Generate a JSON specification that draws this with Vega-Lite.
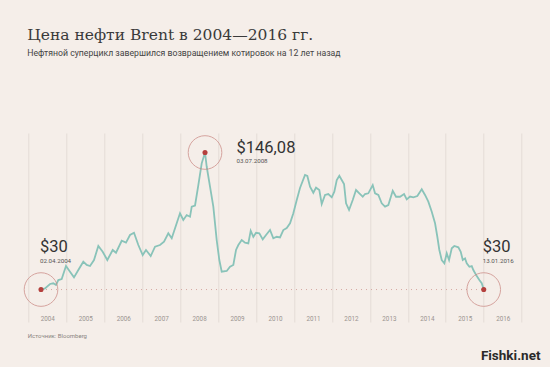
{
  "$schema": "https://vega.github.io/schema/vega-lite/v6.json",
  "autosize": {"type": "none"},
  "width": 493.4,
  "height": 189,
  "padding": {"left": 28.3, "top": 133, "right": 28.3, "bottom": 45},
  "background": "#f5eee9",
  "title": {
    "text": "Цена нефти Brent в 2004—2016 гг.",
    "subtitle": "Нефтяной суперцикл завершился возвращением котировок на 12 лет назад",
    "anchor": "start",
    "frame": "group",
    "offset": 75,
    "dx": -1,
    "font": "DejaVu Serif",
    "fontSize": 15.5,
    "fontWeight": "normal",
    "color": "#3a3a3a",
    "subtitleFont": "Roboto",
    "subtitleFontSize": 8.7,
    "subtitleColor": "#444444",
    "subtitlePadding": 6
  },
  "config": {"view": {"stroke": null}, "axis": {"labelOverlap": false}},
  "datasets": {
    "brent": [
      {"t": 2004.335, "price": 30.0},
      {"t": 2004.440, "price": 31.0},
      {"t": 2004.572, "price": 34.7},
      {"t": 2004.659, "price": 35.3},
      {"t": 2004.730, "price": 33.8},
      {"t": 2004.791, "price": 38.0},
      {"t": 2004.880, "price": 38.9},
      {"t": 2004.993, "price": 49.9},
      {"t": 2005.099, "price": 45.1},
      {"t": 2005.204, "price": 40.3},
      {"t": 2005.318, "price": 46.5},
      {"t": 2005.449, "price": 53.6},
      {"t": 2005.539, "price": 50.8},
      {"t": 2005.626, "price": 49.9},
      {"t": 2005.731, "price": 55.0},
      {"t": 2005.845, "price": 66.9},
      {"t": 2005.960, "price": 62.0},
      {"t": 2006.082, "price": 55.0},
      {"t": 2006.224, "price": 63.5},
      {"t": 2006.311, "price": 61.2},
      {"t": 2006.461, "price": 71.3},
      {"t": 2006.574, "price": 69.7},
      {"t": 2006.680, "price": 76.2},
      {"t": 2006.785, "price": 78.1},
      {"t": 2006.899, "price": 67.7},
      {"t": 2007.014, "price": 59.2},
      {"t": 2007.101, "price": 63.5},
      {"t": 2007.225, "price": 58.4},
      {"t": 2007.339, "price": 66.3},
      {"t": 2007.470, "price": 67.7},
      {"t": 2007.576, "price": 70.5},
      {"t": 2007.689, "price": 77.6},
      {"t": 2007.779, "price": 73.4},
      {"t": 2007.910, "price": 86.1},
      {"t": 2007.997, "price": 94.6},
      {"t": 2008.084, "price": 88.9},
      {"t": 2008.174, "price": 93.1},
      {"t": 2008.261, "price": 91.7},
      {"t": 2008.306, "price": 100.2},
      {"t": 2008.393, "price": 101.2},
      {"t": 2008.480, "price": 118.5},
      {"t": 2008.569, "price": 136.9},
      {"t": 2008.656, "price": 146.08},
      {"t": 2008.701, "price": 134.0},
      {"t": 2008.788, "price": 117.1},
      {"t": 2008.875, "price": 100.2},
      {"t": 2008.964, "price": 71.9},
      {"t": 2009.033, "price": 55.0},
      {"t": 2009.096, "price": 45.1},
      {"t": 2009.228, "price": 45.7},
      {"t": 2009.315, "price": 49.3},
      {"t": 2009.402, "price": 50.8},
      {"t": 2009.473, "price": 63.5},
      {"t": 2009.534, "price": 67.7},
      {"t": 2009.623, "price": 71.9},
      {"t": 2009.710, "price": 69.7},
      {"t": 2009.797, "price": 69.1},
      {"t": 2009.860, "price": 79.8},
      {"t": 2009.929, "price": 74.7},
      {"t": 2010.000, "price": 78.1},
      {"t": 2010.087, "price": 77.6},
      {"t": 2010.177, "price": 72.5},
      {"t": 2010.264, "price": 76.2},
      {"t": 2010.369, "price": 80.4},
      {"t": 2010.456, "price": 73.4},
      {"t": 2010.545, "price": 74.7},
      {"t": 2010.632, "price": 74.1},
      {"t": 2010.719, "price": 80.4},
      {"t": 2010.809, "price": 82.1},
      {"t": 2010.896, "price": 86.1},
      {"t": 2010.983, "price": 94.6},
      {"t": 2011.073, "price": 105.8},
      {"t": 2011.159, "price": 116.0},
      {"t": 2011.291, "price": 127.0},
      {"t": 2011.352, "price": 126.2},
      {"t": 2011.423, "price": 117.1},
      {"t": 2011.510, "price": 112.0},
      {"t": 2011.581, "price": 116.3},
      {"t": 2011.668, "price": 114.3},
      {"t": 2011.731, "price": 102.4},
      {"t": 2011.818, "price": 110.1},
      {"t": 2011.905, "price": 110.9},
      {"t": 2011.995, "price": 108.1},
      {"t": 2012.063, "price": 112.9},
      {"t": 2012.127, "price": 122.8},
      {"t": 2012.195, "price": 126.4},
      {"t": 2012.258, "price": 122.8},
      {"t": 2012.319, "price": 119.4},
      {"t": 2012.372, "price": 103.0},
      {"t": 2012.451, "price": 97.4},
      {"t": 2012.548, "price": 105.8},
      {"t": 2012.635, "price": 114.3},
      {"t": 2012.722, "price": 111.5},
      {"t": 2012.812, "price": 108.6},
      {"t": 2012.872, "price": 110.9},
      {"t": 2012.959, "price": 111.5},
      {"t": 2013.075, "price": 118.5},
      {"t": 2013.136, "price": 111.5},
      {"t": 2013.223, "price": 110.1},
      {"t": 2013.312, "price": 103.0},
      {"t": 2013.399, "price": 100.2},
      {"t": 2013.486, "price": 101.6},
      {"t": 2013.602, "price": 113.7},
      {"t": 2013.689, "price": 108.6},
      {"t": 2013.794, "price": 108.6},
      {"t": 2013.900, "price": 110.9},
      {"t": 2013.971, "price": 106.4},
      {"t": 2014.058, "price": 108.8},
      {"t": 2014.145, "price": 108.1},
      {"t": 2014.250, "price": 109.2},
      {"t": 2014.366, "price": 114.9},
      {"t": 2014.453, "price": 110.1},
      {"t": 2014.540, "price": 104.4},
      {"t": 2014.630, "price": 95.9},
      {"t": 2014.717, "price": 86.1},
      {"t": 2014.777, "price": 74.7},
      {"t": 2014.830, "price": 63.5},
      {"t": 2014.893, "price": 55.0},
      {"t": 2014.962, "price": 52.2},
      {"t": 2015.025, "price": 60.7},
      {"t": 2015.086, "price": 55.0},
      {"t": 2015.157, "price": 64.9},
      {"t": 2015.225, "price": 66.9},
      {"t": 2015.331, "price": 65.8},
      {"t": 2015.394, "price": 62.0},
      {"t": 2015.447, "price": 55.0},
      {"t": 2015.507, "price": 56.4},
      {"t": 2015.552, "price": 52.2},
      {"t": 2015.621, "price": 49.3},
      {"t": 2015.684, "price": 49.9},
      {"t": 2015.726, "price": 46.5},
      {"t": 2015.816, "price": 41.4},
      {"t": 2015.884, "price": 38.0},
      {"t": 2015.947, "price": 35.3},
      {"t": 2016.000, "price": 30.0}
    ],
    "marks": [
      {"t": 2004.335, "price": 30, "label": "$30", "date": "02.04.2004"},
      {"t": 2008.656, "price": 146.08, "label": "$146,08", "date": "03.07.2008"},
      {"t": 2016.0, "price": 30, "label": "$30", "date": "13.01.2016"}
    ],
    "base": [
      {"t": 2004.335, "price": 30},
      {"t": 2016.0, "price": 30}
    ]
  },
  "encoding": {
    "x": {
      "field": "t", "type": "quantitative",
      "scale": {"domain": [2004, 2017], "nice": false, "zero": false},
      "axis": {
        "values": [2004, 2005, 2006, 2007, 2008, 2009, 2010, 2011, 2012, 2013, 2014, 2015, 2016, 2017],
        "labelExpr": "datum.value < 2017 ? '' + datum.value : ''",
        "grid": true,
        "gridColor": "#e4dcd6",
        "gridWidth": 1,
        "domain": false,
        "ticks": false,
        "tickSize": 0,
        "labelOffset": 19,
        "labelPadding": -2,
        "labelBaseline": "alphabetic",
        "labelFont": "Roboto",
        "labelFontSize": 6.3,
        "labelColor": "#9a9490",
        "labelFlush": false,
        "labelOverlap": false,
        "labelBound": false,
        "title": "Источник: Bloomberg",
        "titleFont": "Roboto",
        "titleFontSize": 6,
        "titleFontWeight": "normal",
        "titleColor": "#8a8480",
        "titleAnchor": "start",
        "titleAlign": "left",
        "titleBaseline": "alphabetic",
        "titleX": -1,
        "titleY": 15
      }
    },
    "y": {
      "field": "price", "type": "quantitative",
      "scale": {"domain": [2.5, 162.6], "nice": false, "zero": false},
      "axis": {
        "orient": "right",
        "grid": false,
        "domain": false,
        "ticks": false,
        "labels": false,
        "title": "Fishki.net",
        "titleFont": "Roboto",
        "titleFontSize": 13.5,
        "titleFontWeight": "bold",
        "titleColor": "#2a2a2a",
        "titleAngle": 0,
        "titleAlign": "right",
        "titleBaseline": "alphabetic",
        "titleX": 18.3,
        "titleY": 226
      }
    }
  },
  "layer": [
    {
      "data": {"name": "base"},
      "mark": {"type": "line", "color": "#d6a8a2", "strokeWidth": 1, "strokeDash": [1, 4]}
    },
    {
      "data": {"name": "brent"},
      "mark": {"type": "line", "color": "#89c3b9", "strokeWidth": 1.8, "interpolate": "linear"}
    },
    {
      "data": {"name": "marks"},
      "mark": {"type": "point", "shape": "circle", "filled": false, "size": 1130, "stroke": "#c98580", "strokeWidth": 1}
    },
    {
      "data": {"name": "marks"},
      "mark": {"type": "point", "shape": "circle", "filled": true, "size": 26, "color": "#b4403d", "opacity": 1}
    },
    {
      "data": {"name": "marks"},
      "transform": [{"filter": "datum.price < 100"}],
      "mark": {"type": "text", "align": "left", "baseline": "alphabetic", "dx": -1, "dy": -37.5, "font": "Roboto", "fontSize": 16.5, "color": "#333333"},
      "encoding": {"text": {"field": "label"}}
    },
    {
      "data": {"name": "marks"},
      "transform": [{"filter": "datum.price < 100"}],
      "mark": {"type": "text", "align": "left", "baseline": "alphabetic", "dx": -1, "dy": -26.2, "font": "Roboto", "fontSize": 6.2, "color": "#555555"},
      "encoding": {"text": {"field": "date"}}
    },
    {
      "data": {"name": "marks"},
      "transform": [{"filter": "datum.price > 100"}],
      "mark": {"type": "text", "align": "left", "baseline": "alphabetic", "dx": 31.5, "dy": 0, "font": "Roboto", "fontSize": 16.5, "color": "#333333"},
      "encoding": {"text": {"field": "label"}}
    },
    {
      "data": {"name": "marks"},
      "transform": [{"filter": "datum.price > 100"}],
      "mark": {"type": "text", "align": "left", "baseline": "alphabetic", "dx": 31.5, "dy": 10.8, "font": "Roboto", "fontSize": 6.2, "color": "#555555"},
      "encoding": {"text": {"field": "date"}}
    }
  ]
}
